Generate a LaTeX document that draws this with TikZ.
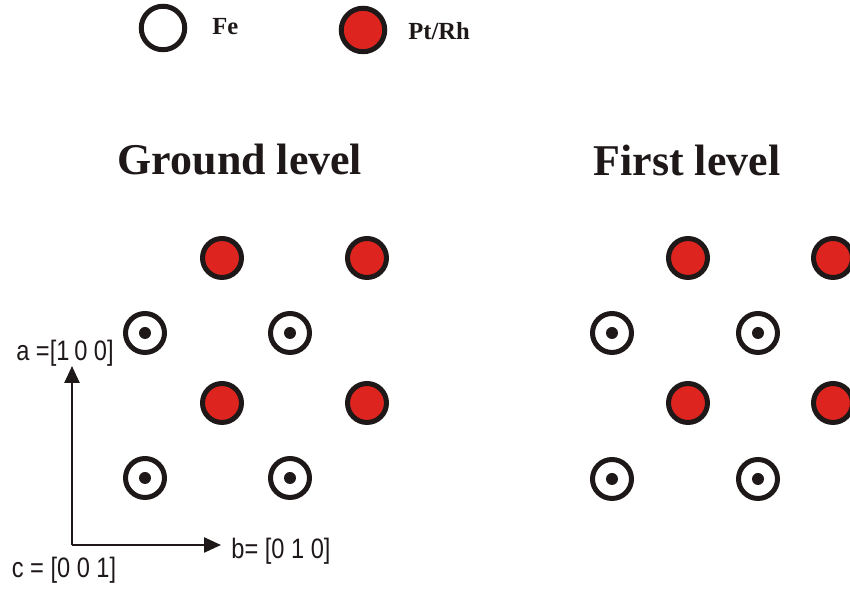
\documentclass[tikz,border=0pt]{standalone}
\usepackage{fontspec}
\setmainfont{Liberation Serif}
\setsansfont{Liberation Sans}[FakeStretch=0.84]
\usetikzlibrary{arrows.meta,positioning}
\definecolor{AtomRed}{RGB}{221,36,30}
\definecolor{Ink}{RGB}{30,24,24}
\tikzset{
  >=Latex,
  atom/.style={circle,draw=Ink,line width=0.1cm,inner sep=0pt,minimum size=0.78cm},
  fe/.style={atom,fill=white,path picture={\fill[Ink] (path picture bounding box.center) circle (0.12cm);}},
  ptrh/.style={atom,fill=AtomRed},
  legendatom/.style={line width=0.1cm,minimum size=0.87cm},
  legend/.style={font=\fontsize{14pt}{16pt}\selectfont\bfseries,text=Ink,anchor=west,inner sep=0pt},
  title/.style={font=\fontsize{25pt}{30pt}\selectfont\bfseries,text=Ink},
  axis/.style={-{Triangle[length=0.34cm,width=0.3cm]},line width=0.05cm,draw=Ink},
  axislabel/.style={font=\sffamily\fontsize{16pt}{19pt}\selectfont,text=Ink,inner sep=0pt}
}
\begin{document}
\begin{tikzpicture}[x=0.02cm,y=-0.02cm]
  \useasboundingbox (0,0) rectangle (850,590);
  % legend
  \node[atom,legendatom,fill=white] (key-fe) at (163,28) {};
  \node[legend] (key-fe-text) at (212,27) {Fe};
  \node[ptrh,legendatom] (key-pt) at (363,30) {};
  \node[legend] (key-pt-text) at (408,31) {Pt/Rh};
  % titles
  \node[title] (ground) at (240,160) {Ground level};
  \node[title] (first) at (687,160) {First level};
  % ground level
  \node[ptrh] (g-pt1) at (222,258) {};
  \node[ptrh] (g-pt2) at (367,258) {};
  \node[fe] (g-fe1) at (145,333) {};
  \node[fe] (g-fe2) at (290,333) {};
  \node[ptrh] (g-pt3) at (222,403) {};
  \node[ptrh] (g-pt4) at (367,403) {};
  \node[fe] (g-fe3) at (145,478) {};
  \node[fe] (g-fe4) at (290,478) {};
  % first level
  \node[ptrh] (f-pt1) at (688,258) {};
  \node[ptrh] (f-pt2) at (833,258) {};
  \node[fe] (f-fe1) at (612,333) {};
  \node[fe] (f-fe2) at (758,333) {};
  \node[ptrh] (f-pt3) at (688,403) {};
  \node[ptrh] (f-pt4) at (833,403) {};
  \node[fe] (f-fe3) at (612,479) {};
  \node[fe] (f-fe4) at (758,479) {};
  % axes
  \coordinate (origin) at (72,545);
  \coordinate (a-end) at (72,366);
  \coordinate (b-end) at (221,545);
  \draw[axis] (origin) -- (a-end);
  \draw[axis] (origin) -- (b-end);
  \node[axislabel] (a-label) at (65,353) {a =[1\kern-1pt\ 0 0]};
  \node[axislabel] (b-label) at (281,551) {b= [0 1 0]};
  \node[axislabel] (c-label) at (64,570) {c = [0 0 1]};
\end{tikzpicture}
\end{document}
